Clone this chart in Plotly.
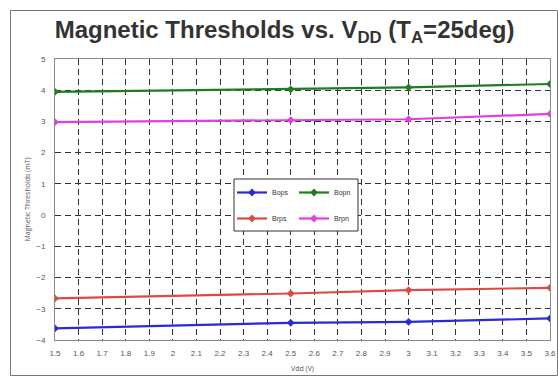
import plotly.graph_objects as go

# Supply voltage sweep points (V)
vdd = [1.5, 2.5, 3.0, 3.6]

# Magnetic thresholds (mT) at each supply voltage
bops = [-3.63, -3.45, -3.42, -3.31]
brps = [-2.67, -2.51, -2.40, -2.33]
bopn = [3.95, 4.03, 4.09, 4.20]
brpn = [2.98, 3.04, 3.07, 3.24]

x_ticks = [round(1.5 + 0.1 * i, 1) for i in range(22)]
y_ticks = [5, 4, 3, 2, 1, 0, -1, -2, -3, -4]

W, H = 558, 376
ML, MR, MT, MB = 55, 8, 59, 36
PW, PH = W - ML - MR, H - MT - MB


def px_x(px):
    return (px - ML) / PW


def px_y(py):
    return (H - MB - py) / PH


series = [
    ("Bops", bops, "#2a2ad8", "legend"),
    ("Brps", brps, "#e04848", "legend"),
    ("Bopn", bopn, "#1f7d1f", "legend2"),
    ("Brpn", brpn, "#e040e0", "legend2"),
]

fig = go.Figure()
for name, vals, color, lg in series:
    fig.add_trace(go.Scatter(
        x=vdd, y=vals, name=name, mode="lines+markers",
        line=dict(color=color, width=2.2),
        marker=dict(color=color, size=6, symbol="diamond"),
        legend=lg, legendgroup=name,
    ))

axis_font = dict(family="Arial, Liberation Sans, sans-serif", size=8, color="#555555")
grid = dict(showgrid=True, gridcolor="#333333", gridwidth=1, griddash="6px,4px",
            showline=True, linecolor="#8a8a8a", linewidth=1, mirror=True,
            zeroline=False, tickfont=axis_font, ticks="", automargin=False)

fig.update_xaxes(range=[1.5, 3.6], tickvals=x_ticks, ticktext=[f"{v:g}" for v in x_ticks],
                 ticklabelstandoff=5,
                 title=dict(text="Vdd (V)", font=dict(size=7, color="#555555"), standoff=9),
                 **grid)
fig.update_yaxes(range=[-4, 5], tickvals=y_ticks, ticklabelstandoff=7,
                 title=dict(text="Magnetic Thresholds (mT)", font=dict(size=7, color="#555555"), standoff=4),
                 **grid)

legend_style = dict(bgcolor="rgba(0,0,0,0)", borderwidth=0,
                    font=dict(family="Arial, Liberation Sans, sans-serif", size=7, color="#333333"),
                    xanchor="left", yanchor="top", itemwidth=30, tracegroupgap=7)

fig.update_layout(
    width=W, height=H, autosize=False,
    margin=dict(l=ML, r=MR, t=MT, b=MB, autoexpand=False),
    paper_bgcolor="white", plot_bgcolor="white",
    title=dict(
        text="Magnetic Thresholds vs. V<sub>DD</sub> (T<sub>A</sub>=25deg)",
        font=dict(family="Arial, Liberation Sans, sans-serif", size=24, color="#333333", weight="bold"),
        x=0.51, xanchor="center", y=1 - 30 / H, yanchor="middle",
    ),
    legend=dict(x=px_x(232), y=px_y(178), **legend_style),
    legend2=dict(x=px_x(294), y=px_y(178), **legend_style),
    shapes=[
        # legend frame
        dict(type="rect", xref="paper", yref="paper",
             x0=px_x(234), x1=px_x(358), y0=px_y(231), y1=px_y(179),
             line=dict(color="#333333", width=1), fillcolor="white", layer="above"),
        # outer frame
        dict(type="rect", xref="paper", yref="paper",
             x0=px_x(10.5), x1=px_x(557.5), y0=px_y(375.5), y1=px_y(10.5),
             line=dict(color="#777777", width=1), fillcolor="rgba(0,0,0,0)", layer="below"),
    ],
)

fig.write_html("out.html")
